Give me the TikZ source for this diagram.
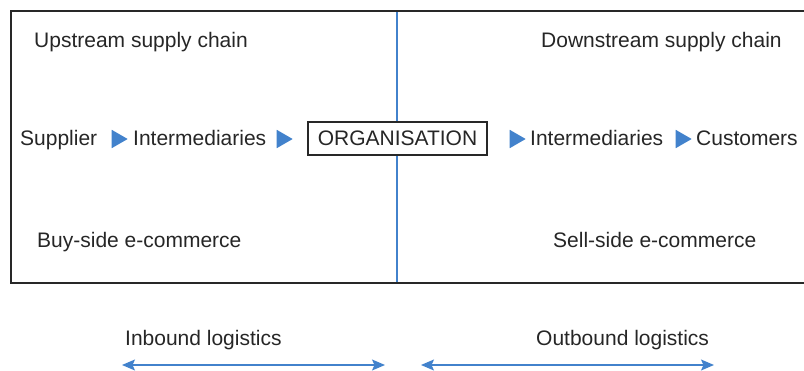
\documentclass[tikz,border=0pt]{standalone}
\usepackage{fontspec}
\setmainfont{Liberation Sans}
\usetikzlibrary{shapes.geometric,arrows.meta}
\definecolor{chainblue}{RGB}{66,130,204}
\definecolor{framegray}{RGB}{40,40,40}

\begin{document}
\begin{tikzpicture}[x=1pt,y=-1pt,
    label/.style={anchor=base west,inner sep=0pt,text=black!85,font=\fontsize{21}{25}\selectfont},
    pointer/.style={isosceles triangle,isosceles triangle apex angle=60,fill=chainblue,
      inner sep=0pt,minimum height=16pt,minimum width=15pt,anchor=center},
    span/.style={draw=chainblue,line width=1.2pt,{Stealth[length=13pt,width=11pt,inset=2.5pt]}-{Stealth[length=13pt,width=11pt,inset=2.5pt]}}]

        \useasboundingbox (0,0) rectangle (804,370);

        % frame and the divide
        \coordinate (topR) at (804,11);
        \coordinate (topL) at (11,11);
        \coordinate (botL) at (11,283);
        \coordinate (botR) at (804,283);
        \coordinate (midT) at (397,11);
        \coordinate (midB) at (397,283);
        \draw[chainblue,line width=1.2pt] (midT) -- (midB);
        \draw[framegray,line width=1.6pt] (topR) -- (topL) -- (botL) -- (botR);

        \begin{scope}[every node/.style={label}]
          \node (up)    at (34,47)   {Upstream supply chain};
          \node (down)  at (541,47)  {Downstream supply chain};
          \node (sup)   at (20,145)  {Supplier};
          \node (int1)  at (133,145) {Intermediaries};
          \node (int2)  at (530,145) {Intermediaries};
          \node (cust)  at (696,145) {Customers};
          \node (buy)   at (37,247)  {Buy-side e-commerce};
          \node (sell)  at (553,247) {Sell-side e-commerce};
          \node (inb)   at (125,345) {Inbound logistics};
          \node (outb)  at (536,345) {Outbound logistics};
        \end{scope}

        \node[draw=framegray,line width=1.2pt,fill=white,minimum width=179pt,minimum height=33pt,
          inner sep=0pt,text=black!85,font=\fontsize{21}{25}\selectfont] (org) at (397.5,138.5) {ORGANISATION};

        \begin{scope}[every node/.style={pointer}]
          \node (p1) at (117,139) {};
          \node (p2) at (282,139) {};
          \node (p3) at (515,139) {};
          \node (p4) at (681,139) {};
        \end{scope}

        \coordinate (inL)  at (122,365);
        \coordinate (inR)  at (385,365);
        \coordinate (outL) at (421,365);
        \coordinate (outR) at (714,365);
        \draw[span] (inL) -- (inR);
        \draw[span] (outL) -- (outR);

      \end{tikzpicture}
\end{document}
